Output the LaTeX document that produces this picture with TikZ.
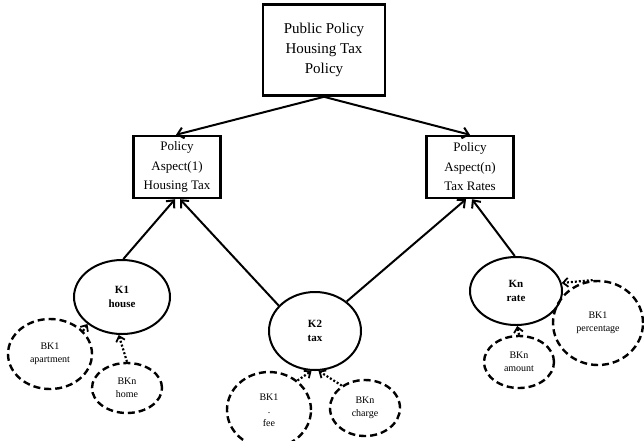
\documentclass[tikz,border=0pt]{standalone}
\usepackage{fontspec}
\setmainfont{Liberation Serif}
\usetikzlibrary{shapes.geometric,arrows.meta}
\tikzset{
  topbox/.style={draw,line width=2.6pt,minimum width=122pt,minimum height=91pt,inner sep=0pt,align=center,font=\fontsize{15}{20}\selectfont},
  aspbox/.style={draw,line width=2.4pt,minimum width=87pt,minimum height=62pt,inner sep=0pt,align=center,font=\fontsize{13}{19.5}\selectfont},
  kell/.style={draw,ellipse,line width=2pt,inner sep=0pt,align=center,font=\fontsize{11}{14}\selectfont\bfseries},
  bkell/.style={draw,ellipse,line width=2.4pt,dash pattern=on 7pt off 4pt,inner sep=0pt,align=center,font=\fontsize{10}{13}\selectfont},
  conn/.style={line width=2pt,-{Straight Barb[length=6pt,width=11pt,line width=2pt]}},
  dconn/.style={line width=2.2pt,dash pattern=on 2pt off 2pt,-{Straight Barb[length=5pt,width=9pt,line width=1.8pt]}},
}
\begin{document}
\begin{tikzpicture}[x=1pt,y=-1pt]
\useasboundingbox (0,0) rectangle (644,440);
\node[topbox] (top) at (324,50) {Public Policy\\Housing Tax\\Policy};
\node[aspbox] (pa1) at (177,167) {Policy\\Aspect(1)\\Housing Tax};
\node[aspbox] (pa2) at (470,167) {Policy\\Aspect(n)\\Tax Rates};
\node[kell,minimum width=96pt,minimum height=74pt] (k1) at (122,297) {K1\\house};
\node[kell,minimum width=92pt,minimum height=78pt] (k2) at (315,331) {K2\\tax};
\node[kell,minimum width=92pt,minimum height=68pt] (kn) at (516,291) {Kn\\rate};
\node[bkell,minimum width=84pt,minimum height=70pt] (apt) at (50,354) {BK1\\apartment};
\node[bkell,minimum width=70pt,minimum height=50pt] (home) at (127,388) {BKn\\home};
\node[bkell,minimum width=84pt,minimum height=76pt] (fee) at (269,410) {BK1\\.\\fee};
\node[bkell,minimum width=70pt,minimum height=56pt] (charge) at (365,408) {BKn\\charge};
\node[bkell,minimum width=90pt,minimum height=84pt] (pct) at (598,323) {BK1\\percentage};
\node[bkell,minimum width=70pt,minimum height=52pt] (amt) at (519,362) {BKn\\amount};
\draw[conn] (top.south) -- ([xshift=-1pt]pa1.north);
\draw[conn] (top.south) -- (pa2.north);
\draw[conn] (k1.88) -- ([xshift=-2pt]pa1.south);
\draw[conn] (k2.145) -- ([xshift=3pt]pa1.south);
\draw[conn] (k2.43) -- ([xshift=-4pt]pa2.south);
\draw[conn] (kn.92) -- ([xshift=2pt]pa2.south);
\draw[dconn] (apt.35) -- (k1.218);
\draw[dconn] (home.north) -- (k1.265);
\draw[dconn] (fee.46) -- (k2.265);
\draw[dconn] (charge.136) -- (k2.275);
\draw[dconn] (pct.97) -- (kn.10);
\draw[dconn] (amt.north) -- (kn.272);
\end{tikzpicture}
\end{document}
